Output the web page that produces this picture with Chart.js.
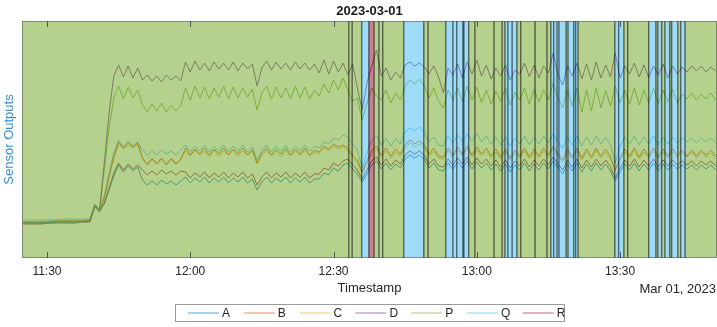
<!DOCTYPE html>
<html>
<head>
<meta charset="utf-8">
<script src="https://cdn.jsdelivr.net/npm/chart.js@4.4.1/dist/chart.umd.min.js"></script>
<style>
  html, body { margin: 0; padding: 0; background: #fff; }
  #wrap { width: 717px; height: 327px; }
</style>
</head>
<body>
<div id="wrap"><canvas id="grafico" width="717" height="327"></canvas></div>
<script>
// minutes since midnight, one sample per minute (11:25 .. 13:50)
const times = [685,686,687,688,689,690,691,692,693,694,695,696,697,698,699,700,701,702,703,704,
  705,706,707,708,709,710,711,712,713,714,715,716,717,718,719,720,721,722,723,724,
  725,726,727,728,729,730,731,732,733,734,735,736,737,738,739,740,741,742,743,744,
  745,746,747,748,749,750,751,752,753,754,755,756,757,758,759,760,761,762,763,764,
  765,766,767,768,769,770,771,772,773,774,775,776,777,778,779,780,781,782,783,784,
  785,786,787,788,789,790,791,792,793,794,795,796,797,798,799,800,801,802,803,804,
  805,806,807,808,809,810,811,812,813,814,815,816,817,818,819,820,821,822,823,824,
  825,826,827,828,829,830];

const seriesNames = ['A', 'B', 'C', 'D', 'P', 'Q', 'R'];
const seriesColors = ['#0072BD', '#D95319', '#EDB120', '#7E2F8E', '#77AC30', '#4DBEEE', '#A2142F'];

const valuesA = [35,35,35,35,35,35,35,36,36,36,36,36,36,36,37, 52,47,54,68,82,
  93,86,92,87,91, 78,73,77,73,78,74,77,73,77,
  81,75,80,76,81,75,80,76,81,75,80,76,81,75,79,68,76,81,75,80,76,81,75,80,76,81,75,79,
  79,85,83,90,87,93,
  95,89,84,76,84,93,97,89,95,88, 94,90,99,103,100,103,99,90,95,88, 87,95,89,96,90,97,89,96,90,95,
  88,94,87,94,86,93,88,95,87,94, 88,95,89,97,90,84,94,87,95,86, 94,87,95,88,94,87,77,86,94,88,
  95,87,94,88,95,87,94,88,94,89, 93,89,93,88,93,89,93,88];
const valuesB = [36,36,36,36,36,36,37,37,37,37,37,37,37,37,38, 53,48,60,82,102,
  116,110,115,111,115, 100,93,99,94,100,93,99,94,99,
  110,103,109,104,110,103,109,104,110,103,109,104,110,103,108,95,105,110,103,109,104,110,103,109,104,110,103,108,
  106,112,109,114,111,113,
  110,103,98,86,97,108,112,103,110,102, 109,104,113,118,114,117,113,104,110,102, 101,110,103,111,104,112,103,111,104,110,
  102,109,101,109,100,108,102,110,101,109, 102,110,103,112,104,98,109,101,110,100, 109,101,110,102,109,101,88,100,109,102,
  110,101,109,102,110,101,109,102,109,103, 108,102,108,102,108,103,108,102];
const valuesC = [35,35,35,35,36,36,36,36,36,36,36,37,37,37,37, 52,47,58,80,100,
  114,109,113,110,114, 99,94,100,95,99,94,100,95,98,
  107,102,108,103,107,101,108,102,107,103,108,102,107,103,107,94,103,108,102,107,101,108,102,107,103,108,102,106,
  104,110,107,112,109,111,
  107,101,96,85,95,105,109,101,107,100, 106,102,110,115,111,114,110,102,107,100, 99,107,101,108,102,109,101,108,102,107,
  100,106,99,106,98,105,100,107,99,106, 100,107,101,109,102,96,106,99,107,98, 106,99,107,100,106,99,87,98,106,100,
  107,99,106,100,107,99,106,100,106,101, 106,101,106,100,106,101,105,100];
const valuesD = [35,35,35,35,35,35,36,36,36,36,36,37,37,37,37, 53,48,95,145,182,
  193,181,192,180,190, 178,183,177,182,176,183,178,182,177,
  196,186,197,188,195,187,196,189,195,188,196,187,195,189,194,172,190,197,188,196,189,195,188,196,189,195,188,194,
  185,198,184,197,186,195,
  183,194,170,148,175,192,208,182,190,178, 186,180,193,196,192,195,191,184,192,181, 165,190,183,194,180,196,184,198,182,193,
  179,190,182,193,178,188,184,195,181,193, 180,192,185,205,183,173,192,182,195,179, 194,178,196,180,193,181,205,180,192,184,
  195,181,193,180,192,183,194,180,192,184, 191,186,192,187,192,186,191,187];
const valuesP = [36,36,36,36,36,36,36,37,37,37,37,37,37,38,38, 52,47,88,130,160,
  172,159,171,160,168, 153,146,154,147,155,146,153,147,152,
  170,158,172,160,171,159,170,161,172,159,171,160,170,161,169,148,165,172,159,171,160,170,159,172,160,171,159,168,
  162,174,165,178,168,180,
  168,157,160,138,155,170,162,158,168,155, 165,158,172,178,174,179,172,160,170,157, 150,168,158,170,156,172,158,171,155,168,
  154,167,157,170,153,166,158,170,154,169, 156,168,158,175,160,150,168,152,170,146, 168,147,170,150,167,152,172,155,168,154,
  170,153,168,155,170,154,168,156,169,155, 164,159,165,158,164,159,165,158];
const valuesQ = [38,38,38,38,38,38,38,38,39,39,39,39,39,39,39, 54,49,62,85,105,
  118,111,117,112,116, 108,103,107,103,108,104,107,103,108,
  113,106,112,107,113,106,112,107,113,106,112,107,113,106,111,98,108,113,106,112,107,113,106,112,107,113,107,112,
  110,116,114,120,118,123,
  121,114,108,90,105,118,122,113,120,112, 119,114,126,130,127,131,126,116,121,113, 112,122,115,123,116,124,117,125,116,122,
  114,121,113,121,112,120,114,122,113,121, 114,122,115,124,116,110,121,113,122,112, 121,113,122,114,121,113,95,112,121,114,
  122,113,121,114,122,113,121,114,121,115, 120,116,120,115,120,116,120,115];
const valuesR = [34,34,34,34,34,35,35,35,35,35,35,35,36,36,36, 51,46,55,70,85,
  95,88,94,89,93, 88,83,87,83,88,84,87,83,87,
  86,80,85,81,86,80,85,81,86,80,85,81,86,80,84,73,81,86,80,85,81,86,80,85,81,86,80,84,
  84,90,88,95,92,97,
  99,93,88,79,88,97,101,93,99,92, 98,94,103,107,104,107,103,94,99,92, 91,99,93,100,94,101,93,100,94,99,
  92,98,91,98,90,97,92,99,91,98, 92,99,93,101,94,88,98,91,99,90, 98,91,99,92,98,91,80,90,98,92,
  99,91,98,92,99,91,98,92,98,93, 97,93,97,92,97,93,97,92];
const seriesValues = [valuesA, valuesB, valuesC, valuesD, valuesP, valuesQ, valuesR];

// operating state segments: start minute and state (N = normal, B = blue, R = red)
const segStart = [684.77, 753.2, 753.9, 755.9, 757.4, 758.5, 759.5, 760.3, 764.7, 768.9, 769.8,
  773.5, 775.0, 775.8, 777.1, 777.3, 778.3, 779.6, 783.6, 785.3, 785.9, 786.5, 787.4, 788.4,
  789.2, 792.2, 794.7, 795.5, 796.1, 796.8, 797.2, 798.7, 799.1, 800.3, 800.7, 801.2,
  808.9, 809.7, 810.8, 811.6, 816.0, 817.5, 817.9, 818.7, 819.4, 820.4, 820.8, 822.1, 822.7, 823.6];
const segState = ['N','N','N','B','R','N','N','N','B','N','N',
  'B','B','B','N','B','N','N','N','N','B','B','B','N',
  'N','N','N','B','B','B','B','N','B','B','B','N',
  'B','B','N','N','B','N','B','N','B','N','B','N','B','N'];

const tickMinutes = [690, 720, 750, 780, 810];
const xMin = 684.77, xMax = 830.3;

const stateFill = { N: 'rgba(119,172,48,0.55)', B: 'rgba(77,190,238,0.55)', R: 'rgba(162,20,47,0.55)' };
const FONT = "'Liberation Sans', Arial, Helvetica, sans-serif";

function fmtTime(v) {
  const h = Math.floor(v / 60), m = Math.round(v % 60);
  return h + ':' + (m < 10 ? '0' + m : m);
}

const overlay = {
  id: 'overlay',
  afterDatasetsDraw(chart) {
    const { ctx, chartArea: a, scales: { x } } = chart;
    ctx.save();
    ctx.beginPath();
    ctx.rect(a.left, a.top, a.right - a.left, a.bottom - a.top);
    ctx.clip();
    for (let i = 0; i < segStart.length; i++) {
      const x0 = x.getPixelForValue(segStart[i]);
      const x1 = x.getPixelForValue(i + 1 < segStart.length ? segStart[i + 1] : xMax);
      ctx.fillStyle = stateFill[segState[i]];
      ctx.fillRect(x0, a.top, x1 - x0, a.bottom - a.top);
    }
    ctx.strokeStyle = 'rgba(0,0,0,0.55)';
    ctx.lineWidth = 1.4;
    for (let i = 1; i < segStart.length; i++) {
      const px = x.getPixelForValue(segStart[i]);
      ctx.beginPath();
      ctx.moveTo(px, a.top);
      ctx.lineTo(px, a.bottom);
      ctx.stroke();
    }
    ctx.restore();

    // box + inward ticks
    ctx.save();
    ctx.strokeStyle = 'rgba(70,70,70,0.5)';
    ctx.lineWidth = 1;
    ctx.strokeRect(a.left + 0.5, a.top + 0.5, a.right - a.left - 1, a.bottom - a.top - 1);
    ctx.strokeStyle = 'rgba(60,60,60,0.8)';
    tickMinutes.forEach(t => {
      const px = Math.round(x.getPixelForValue(t)) + 0.5;
      ctx.beginPath();
      ctx.moveTo(px, a.bottom); ctx.lineTo(px, a.bottom - 6);
      ctx.moveTo(px, a.top); ctx.lineTo(px, a.top + 6);
      ctx.stroke();
    });
    ctx.restore();
  },
  afterDraw(chart) {
    const { ctx, chartArea: a } = chart;
    const cx = (a.left + a.right) / 2;
    ctx.save();
    ctx.fillStyle = '#1a1a1a';
    ctx.textAlign = 'center';
    ctx.textBaseline = 'middle';
    ctx.font = 'bold 13px ' + FONT;
    ctx.fillText('2023-03-01', cx, 11);
    ctx.fillStyle = '#262626';
    ctx.font = '13px ' + FONT;
    ctx.fillText('Timestamp', cx, 288);
    ctx.textAlign = 'right';
    ctx.fillText('Mar 01, 2023', 716, 289);

    // legend
    const lx = 175, ly = 304, lw = 390, lh = 18;
    ctx.fillStyle = '#fff';
    ctx.fillRect(lx, ly, lw, lh);
    ctx.strokeStyle = '#9a9a9a';
    ctx.lineWidth = 1;
    ctx.strokeRect(lx + 0.5, ly + 0.5, lw - 1, lh - 1);
    ctx.font = '12px ' + FONT;
    ctx.textAlign = 'left';
    chart.data.datasets.forEach((ds, k) => {
      const sx = 188 + k * 55.8;
      const sy = ly + lh / 2;
      ctx.strokeStyle = ds.borderColor;
      ctx.globalAlpha = 0.65;
      ctx.beginPath();
      ctx.moveTo(sx, sy); ctx.lineTo(sx + 31, sy);
      ctx.stroke();
      ctx.globalAlpha = 1;
      ctx.fillStyle = '#262626';
      ctx.fillText(ds.label, sx + 34, sy + 0.5);
    });
    ctx.restore();
  }
};

const datasets = seriesNames.map((name, k) => ({
  label: name,
  data: times.map((t, i) => ({ x: t, y: seriesValues[k][i] })),
  borderColor: seriesColors[k],
  borderWidth: 0.9,
  pointRadius: 0,
  fill: false,
  tension: 0
}));

const ctx = document.getElementById('grafico').getContext('2d');
window.meuGrafico = new Chart(ctx, {
  type: 'line',
  data: { datasets },
  options: {
    responsive: false,
    animation: false,
    layout: { padding: { top: 21, right: 0, left: 0, bottom: 0 } },
    plugins: { legend: { display: false }, tooltip: { enabled: false } },
    scales: {
      x: {
        type: 'linear',
        min: xMin,
        max: xMax,
        grid: { display: false, drawTicks: false, tickLength: 0 },
        border: { display: false },
        afterBuildTicks: (s) => { s.ticks = tickMinutes.map(v => ({ value: v })); },
        afterFit: (s) => { s.height = 69; },
        ticks: {
          callback: (v) => fmtTime(v),
          color: '#262626',
          font: { family: FONT, size: 12 },
          padding: 6,
          maxRotation: 0,
          autoSkip: false
        }
      },
      y: {
        min: 0,
        max: 237,
        grid: { display: false },
        border: { display: false },
        ticks: { display: false },
        afterFit: (s) => { s.width = 22; },
        title: {
          display: true,
          text: 'Sensor Outputs',
          color: '#3b8fd0',
          font: { family: FONT, size: 13 },
          padding: { top: 2, bottom: 2 }
        }
      }
    }
  },
  plugins: [overlay]
});
</script>
</body>
</html>
